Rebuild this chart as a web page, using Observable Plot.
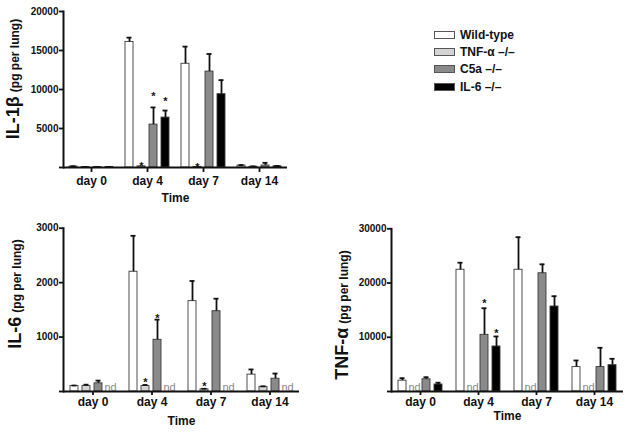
<!DOCTYPE html>
<html><head><meta charset="utf-8">
<script src="https://cdn.jsdelivr.net/npm/d3@7"></script>
<script src="https://cdn.jsdelivr.net/npm/@observablehq/plot@0.6"></script>
<style>
body{margin:0;background:#fff;}
#wrap{position:relative;width:635px;height:433px;overflow:hidden;font-family:"Liberation Sans",Arial,sans-serif;}
.panel{position:absolute;}
#legend{position:absolute;left:434px;top:26px;font-weight:bold;font-size:12px;color:#111;}
#legend .row{display:flex;align-items:center;height:17.3px;}
#legend .sw{width:19px;height:6px;border:1px solid #555;margin-right:5px;}
</style></head>
<body><div id="wrap"><div id="legend"></div></div>
<script>
const days = ["day 0", "day 4", "day 7", "day 14"];
const genotypes = ["Wild-type", "TNF-α –/–", "C5a –/–", "IL-6 –/–"];
const fills = ["#ffffff", "#d4d4d4", "#8a8a8a", "#000000"];

// IL-1β (pg per lung): per genotype, values by day
const il1bMean = [[120, 16100, 13300, 250], [50, 150, 80, 100], [50, 5500, 12300, 250], [60, 6400, 9400, 150]];
const il1bErr  = [[40, 550, 2200, 60], [20, 0, 0, 40], [20, 2200, 2250, 350], [20, 900, 1800, 50]];
const il1bStar = [[null, null, null, null], [null, 570, 440, null], [null, 9430, null, null], [null, 8790, null, null]];
const il1bTicks = [0, 5000, 10000, 15000, 20000];

// IL-6 (pg per lung); null = not detected (nd)
const il6Mean = [[100, 2200, 1660, 310], [100, 100, 40, 85], [150, 950, 1475, 235], null];
const il6Err  = [[10, 660, 370, 95], [25, 20, 10, 10], [50, 370, 230, 95], null];
const il6Star = [[null, null, null, null], [null, 215, 147, null], [null, 1396, null, null], null];
const il6Ticks = [0, 1000, 2000, 3000];

// TNF-α (pg per lung)
const tnfMean = [[2000, 22450, 22450, 4500], null, [2250, 10450, 21800, 4500], [1290, 8300, 15670, 4850]];
const tnfErr  = [[450, 1300, 6000, 1220], null, [380, 4900, 1650, 3560], [330, 1850, 1900, 1180]];
const tnfStar = [[null, null, null, null], null, [null, 16780, null, null], [null, 11250, null, null]];
const tnfTicks = [0, 10000, 20000, 30000];

const wrap = document.getElementById("wrap");

function makePanel(cfg) {
  const rows = [];
  genotypes.forEach((g, gi) => days.forEach((d, di) => {
    const m = cfg.mean[gi];
    rows.push({
      day: d, geno: g, nd: !m,
      value: m ? m[di] : null,
      err: m ? cfg.err[gi][di] : null,
      star: cfg.star[gi] ? cfg.star[gi][di] : null
    });
  }));
  const bars = rows.filter(r => !r.nd);
  const errs = bars.filter(r => r.err > 0);
  const svg = Plot.plot({
    width: cfg.width, height: cfg.height,
    marginLeft: cfg.ml, marginRight: cfg.mr, marginTop: cfg.mt, marginBottom: cfg.mb,
    style: "font-family:'Liberation Sans',Arial,sans-serif;font-weight:bold;font-size:10px;background:transparent;overflow:visible;color:#111",
    fx: {domain: days, padding: 0},
    x: {domain: genotypes, paddingInner: 0.3, paddingOuter: 0.47, axis: null},
    y: {domain: [0, cfg.max]},
    color: {domain: genotypes, range: fills},
    marks: [
      Plot.barY(bars, {fx: "day", x: "geno", y: "value", fill: "geno", stroke: "#3a3a3a", strokeWidth: 0.9}),
      Plot.ruleX(errs, {fx: "day", x: "geno", y1: "value", y2: r => r.value + r.err, strokeWidth: 1.8, stroke: "#111"}),
      Plot.tickY(errs, {fx: "day", x: "geno", y: r => r.value + r.err, strokeWidth: 1.8, inset: 1.5, stroke: "#111"}),
      Plot.text(rows.filter(r => r.star != null), {fx: "day", x: "geno", y: "star", text: () => "*", fontSize: 11, dy: 3}),
      Plot.text(rows.filter(r => r.nd), {fx: "day", x: "geno", y: () => 0, text: () => "nd", fill: "#8a8a8a", fontWeight: "normal", fontSize: 11, lineAnchor: "bottom", dy: -1}),
      Plot.ruleY([0], {strokeWidth: 2, stroke: "#111"}),
      Plot.frame({anchor: "left", facetAnchor: "left", strokeWidth: 2, stroke: "#111"}),
      Plot.axisY({ticks: cfg.ticks, tickFormat: d => d === 0 ? "" : String(d), tickSize: 4, tickPadding: 1, strokeWidth: 1.8, label: null, fontSize: 10}),
      Plot.axisFx({anchor: "bottom", tickSize: cfg.fxTick, tickPadding: cfg.fxPad, strokeWidth: 1.8, fontSize: 12, label: "Time", labelAnchor: "center", labelOffset: cfg.labelOffset})
    ]
  });
  svg.classList.add("panel");
  svg.style.position = "absolute";
  svg.style.left = cfg.left + "px";
  svg.style.top = cfg.top + "px";
  const t = d3.select(svg).append("text")
    .attr("transform", `translate(${cfg.tx},${cfg.ty}) rotate(-90)`)
    .attr("text-anchor", "middle")
    .attr("font-weight", "bold")
    .attr("fill", "#111");
  t.append("tspan").attr("font-size", cfg.bigSize).text(cfg.title);
  t.append("tspan").attr("font-size", 12).attr("dx", 4).text("(pg per lung)");
  wrap.appendChild(svg);
}

makePanel({mean: il1bMean, err: il1bErr, star: il1bStar, ticks: il1bTicks, max: 20000,
  left: 0, top: 0, width: 300, height: 207, ml: 62, mr: 12, mt: 11, mb: 40,
  fxTick: 5, fxPad: 4, labelOffset: 34, title: "IL-1β", bigSize: 18, tx: 19, ty: 79});

makePanel({mean: il6Mean, err: il6Err, star: il6Star, ticks: il6Ticks, max: 3000,
  left: 0, top: 200, width: 320, height: 233, ml: 61, mr: 20, mt: 27.7, mb: 42,
  fxTick: 4, fxPad: 2, labelOffset: 33, title: "IL-6", bigSize: 18, tx: 21, ty: 94});

makePanel({mean: tnfMean, err: tnfErr, star: tnfStar, ticks: tnfTicks, max: 30000,
  left: 320, top: 200, width: 315, height: 233, ml: 70, mr: 12, mt: 28.3, mb: 42,
  fxTick: 4, fxPad: 2, labelOffset: 28, title: "TNF-α", bigSize: 18, tx: 28, ty: 115});

const legend = d3.select("#legend");
genotypes.forEach((g, i) => {
  const row = legend.append("div").attr("class", "row");
  row.append("div").attr("class", "sw").style("background", fills[i]);
  row.append("span").text(g);
});
</script>
</body></html>
